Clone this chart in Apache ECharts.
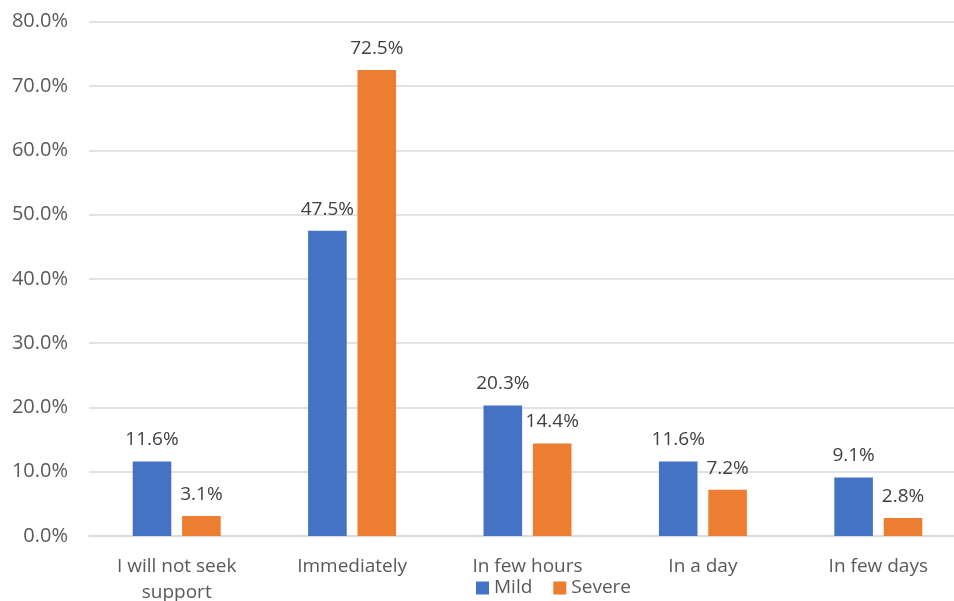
<!DOCTYPE html>
<html>
<head>
<meta charset="utf-8">
<script src="https://cdn.jsdelivr.net/npm/echarts@6/dist/echarts.min.js"></script>
<style>
  html, body { margin: 0; padding: 0; background: #ffffff; }
  #chart { width: 954px; height: 601px; }
</style>
</head>
<body>
<div id="chart"></div>
<script>
// Time to seek support, by symptom severity (percent of respondents)
const categories = ['I will not seek\nsupport', 'Immediately', 'In few hours', 'In a day', 'In few days'];
const mildValues = [11.6, 47.5, 20.3, 11.6, 9.1];
const severeValues = [3.1, 72.5, 14.4, 7.2, 2.8];
const seriesNames = ['Mild', 'Severe'];

const FONT = '"Open Sans", "Noto Sans", sans-serif';
const pct = v => v.toFixed(1) + '%';

const chart = echarts.init(document.getElementById('chart'), null, { renderer: 'canvas' });

const labelStyle = {
  show: true,
  position: 'top',
  distance: 12,
  fontFamily: FONT,
  fontSize: 19,
  color: '#404040',
  formatter: p => pct(p.value)
};

chart.setOption({
  animation: false,
  backgroundColor: '#ffffff',
  grid: {
    left: 89, top: 21.7, width: 877, height: 514.3,
    containLabel: false,
    outerBoundsMode: 'none'
  },
  legend: {
    data: seriesNames,
    left: 471,
    top: 573.5,
    itemWidth: 13,
    itemHeight: 13,
    itemGap: 21,
    icon: 'rect',
    textStyle: { fontFamily: FONT, fontSize: 19, color: '#595959' }
  },
  xAxis: {
    type: 'category',
    data: categories,
    axisLine: { show: true, lineStyle: { color: '#D9D9D9', width: 1.5 } },
    axisTick: { show: false },
    axisLabel: {
      interval: 0,
      margin: 18,
      fontFamily: FONT,
      fontSize: 19,
      lineHeight: 26,
      color: '#595959'
    }
  },
  yAxis: {
    type: 'value',
    min: 0,
    max: 80,
    interval: 10,
    axisLine: { show: false },
    axisTick: { show: false },
    splitLine: { lineStyle: { color: '#D9D9D9', width: 1.5 } },
    axisLabel: {
      margin: 21,
      fontFamily: FONT,
      fontSize: 20,
      color: '#595959',
      formatter: v => pct(v)
    }
  },
  series: [
    {
      name: seriesNames[0],
      type: 'bar',
      data: mildValues,
      barWidth: '22%',
      barGap: '28%',
      itemStyle: { color: '#4472C4' },
      label: labelStyle
    },
    {
      name: seriesNames[1],
      type: 'bar',
      data: severeValues,
      barWidth: '22%',
      barGap: '28%',
      itemStyle: { color: '#ED7D31' },
      label: labelStyle
    }
  ]
});
</script>
</body>
</html>
